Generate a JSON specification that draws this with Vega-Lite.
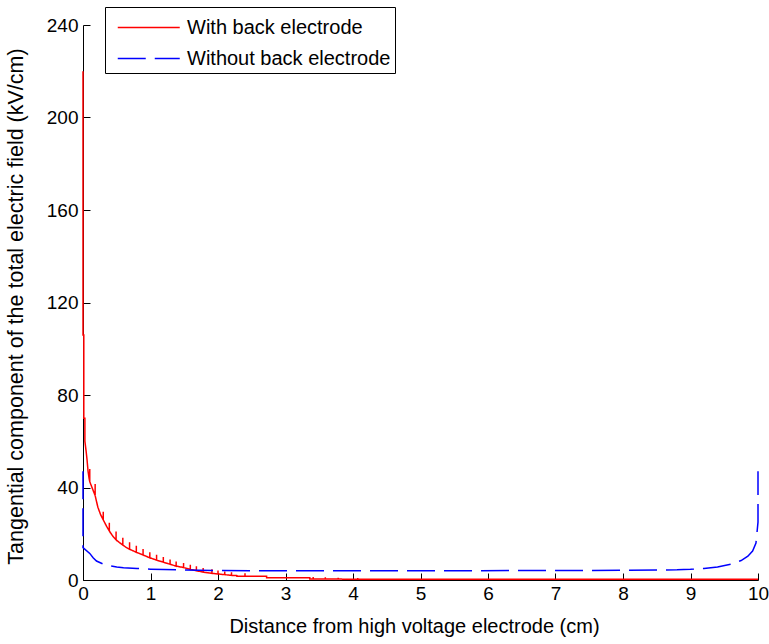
{
  "$schema": "https://vega.github.io/schema/vega-lite/v6.json",
  "width": 675,
  "height": 555,
  "autosize": {"type": "none"},
  "padding": {"left": 83, "top": 25, "right": 11, "bottom": 64},
  "background": "white",
  "config": {
    "font": "Liberation Sans",
    "view": {"stroke": null},
    "axis": {
      "grid": false,
      "domainColor": "black",
      "domainWidth": 1,
      "tickColor": "black",
      "tickWidth": 1,
      "tickSize": -7,
      "labelColor": "black",
      "titleColor": "black",
      "labelFont": "Liberation Sans",
      "titleFont": "Liberation Sans",
      "labelFontSize": 19,
      "titleFontWeight": "normal"
    }
  },
  "data": {
    "values": [
      {"s": "With back electrode", "i": 1, "x": 0, "y": 220},
      {"s": "With back electrode", "i": 2, "x": 0, "y": 106},
      {"s": "With back electrode", "i": 3, "x": 0.012, "y": 106},
      {"s": "With back electrode", "i": 4, "x": 0.012, "y": 70},
      {"s": "With back electrode", "i": 5, "x": 0.028, "y": 70},
      {"s": "With back electrode", "i": 6, "x": 0.028, "y": 60},
      {"s": "With back electrode", "i": 7, "x": 0.045, "y": 56},
      {"s": "With back electrode", "i": 8, "x": 0.06, "y": 52},
      {"s": "With back electrode", "i": 9, "x": 0.075, "y": 47},
      {"s": "With back electrode", "i": 10, "x": 0.09, "y": 44},
      {"s": "With back electrode", "i": 11, "x": 0.1, "y": 42.5},
      {"s": "With back electrode", "i": 12, "x": 0.1, "y": 48},
      {"s": "With back electrode", "i": 13, "x": 0.1, "y": 42.5},
      {"s": "With back electrode", "i": 14, "x": 0.14, "y": 39.5},
      {"s": "With back electrode", "i": 15, "x": 0.18, "y": 36.5},
      {"s": "With back electrode", "i": 16, "x": 0.18, "y": 41.5},
      {"s": "With back electrode", "i": 17, "x": 0.18, "y": 36.5},
      {"s": "With back electrode", "i": 18, "x": 0.22, "y": 31.5},
      {"s": "With back electrode", "i": 19, "x": 0.26, "y": 28.3},
      {"s": "With back electrode", "i": 20, "x": 0.3, "y": 26},
      {"s": "With back electrode", "i": 21, "x": 0.3, "y": 29.5},
      {"s": "With back electrode", "i": 22, "x": 0.3, "y": 26},
      {"s": "With back electrode", "i": 23, "x": 0.35, "y": 23.2},
      {"s": "With back electrode", "i": 24, "x": 0.39, "y": 21.2},
      {"s": "With back electrode", "i": 25, "x": 0.39, "y": 24.8},
      {"s": "With back electrode", "i": 26, "x": 0.39, "y": 21.2},
      {"s": "With back electrode", "i": 27, "x": 0.44, "y": 19},
      {"s": "With back electrode", "i": 28, "x": 0.49, "y": 17.4},
      {"s": "With back electrode", "i": 29, "x": 0.49, "y": 21},
      {"s": "With back electrode", "i": 30, "x": 0.49, "y": 17.4},
      {"s": "With back electrode", "i": 31, "x": 0.54, "y": 16.2},
      {"s": "With back electrode", "i": 32, "x": 0.59, "y": 15.1},
      {"s": "With back electrode", "i": 33, "x": 0.59, "y": 18.3},
      {"s": "With back electrode", "i": 34, "x": 0.59, "y": 15.1},
      {"s": "With back electrode", "i": 35, "x": 0.64, "y": 14.1},
      {"s": "With back electrode", "i": 36, "x": 0.69, "y": 13.3},
      {"s": "With back electrode", "i": 37, "x": 0.69, "y": 16.3},
      {"s": "With back electrode", "i": 38, "x": 0.69, "y": 13.3},
      {"s": "With back electrode", "i": 39, "x": 0.79, "y": 12.0},
      {"s": "With back electrode", "i": 40, "x": 0.79, "y": 14.8},
      {"s": "With back electrode", "i": 41, "x": 0.79, "y": 12.0},
      {"s": "With back electrode", "i": 42, "x": 0.89, "y": 10.8},
      {"s": "With back electrode", "i": 43, "x": 0.89, "y": 13.4},
      {"s": "With back electrode", "i": 44, "x": 0.89, "y": 10.8},
      {"s": "With back electrode", "i": 45, "x": 0.99, "y": 9.6},
      {"s": "With back electrode", "i": 46, "x": 0.99, "y": 12.0},
      {"s": "With back electrode", "i": 47, "x": 0.99, "y": 9.6},
      {"s": "With back electrode", "i": 48, "x": 1.09, "y": 8.6},
      {"s": "With back electrode", "i": 49, "x": 1.09, "y": 10.9},
      {"s": "With back electrode", "i": 50, "x": 1.09, "y": 8.6},
      {"s": "With back electrode", "i": 51, "x": 1.19, "y": 7.7},
      {"s": "With back electrode", "i": 52, "x": 1.19, "y": 9.9},
      {"s": "With back electrode", "i": 53, "x": 1.19, "y": 7.7},
      {"s": "With back electrode", "i": 54, "x": 1.29, "y": 6.8},
      {"s": "With back electrode", "i": 55, "x": 1.29, "y": 8.9},
      {"s": "With back electrode", "i": 56, "x": 1.29, "y": 6.8},
      {"s": "With back electrode", "i": 57, "x": 1.38, "y": 6.0},
      {"s": "With back electrode", "i": 58, "x": 1.38, "y": 8.0},
      {"s": "With back electrode", "i": 59, "x": 1.38, "y": 6.0},
      {"s": "With back electrode", "i": 60, "x": 1.49, "y": 5.4},
      {"s": "With back electrode", "i": 61, "x": 1.49, "y": 7.4},
      {"s": "With back electrode", "i": 62, "x": 1.49, "y": 5.4},
      {"s": "With back electrode", "i": 63, "x": 1.59, "y": 4.6},
      {"s": "With back electrode", "i": 64, "x": 1.59, "y": 6.6},
      {"s": "With back electrode", "i": 65, "x": 1.59, "y": 4.6},
      {"s": "With back electrode", "i": 66, "x": 1.68, "y": 4.0},
      {"s": "With back electrode", "i": 67, "x": 1.68, "y": 5.9},
      {"s": "With back electrode", "i": 68, "x": 1.68, "y": 4.0},
      {"s": "With back electrode", "i": 69, "x": 1.78, "y": 3.4},
      {"s": "With back electrode", "i": 70, "x": 1.78, "y": 5.2},
      {"s": "With back electrode", "i": 71, "x": 1.78, "y": 3.4},
      {"s": "With back electrode", "i": 72, "x": 1.91, "y": 2.9},
      {"s": "With back electrode", "i": 73, "x": 1.91, "y": 4.6},
      {"s": "With back electrode", "i": 74, "x": 1.91, "y": 2.9},
      {"s": "With back electrode", "i": 75, "x": 2.0, "y": 2.6},
      {"s": "With back electrode", "i": 76, "x": 2.0, "y": 4.1},
      {"s": "With back electrode", "i": 77, "x": 2.0, "y": 2.6},
      {"s": "With back electrode", "i": 78, "x": 2.1, "y": 2.3},
      {"s": "With back electrode", "i": 79, "x": 2.1, "y": 3.7},
      {"s": "With back electrode", "i": 80, "x": 2.1, "y": 2.3},
      {"s": "With back electrode", "i": 81, "x": 2.2, "y": 2.0},
      {"s": "With back electrode", "i": 82, "x": 2.2, "y": 3.3},
      {"s": "With back electrode", "i": 83, "x": 2.2, "y": 2.0},
      {"s": "With back electrode", "i": 84, "x": 2.28, "y": 1.9},
      {"s": "With back electrode", "i": 85, "x": 2.28, "y": 1.6},
      {"s": "With back electrode", "i": 86, "x": 2.4, "y": 1.6},
      {"s": "With back electrode", "i": 87, "x": 2.4, "y": 2.9},
      {"s": "With back electrode", "i": 88, "x": 2.4, "y": 1.6},
      {"s": "With back electrode", "i": 89, "x": 2.72, "y": 1.6},
      {"s": "With back electrode", "i": 90, "x": 2.72, "y": 1.0},
      {"s": "With back electrode", "i": 91, "x": 3.36, "y": 1.0},
      {"s": "With back electrode", "i": 92, "x": 3.36, "y": 0.4},
      {"s": "With back electrode", "i": 93, "x": 3.41, "y": 0.4},
      {"s": "With back electrode", "i": 94, "x": 3.41, "y": 1.3},
      {"s": "With back electrode", "i": 95, "x": 3.41, "y": 0.4},
      {"s": "With back electrode", "i": 96, "x": 3.59, "y": 0.4},
      {"s": "With back electrode", "i": 97, "x": 3.59, "y": 1.2},
      {"s": "With back electrode", "i": 98, "x": 3.59, "y": 0.4},
      {"s": "With back electrode", "i": 99, "x": 3.78, "y": 0.4},
      {"s": "With back electrode", "i": 100, "x": 3.78, "y": 1.0},
      {"s": "With back electrode", "i": 101, "x": 3.78, "y": 0.4},
      {"s": "With back electrode", "i": 102, "x": 4.07, "y": 0.3},
      {"s": "With back electrode", "i": 103, "x": 4.07, "y": 0.9},
      {"s": "With back electrode", "i": 104, "x": 4.07, "y": 0.3},
      {"s": "With back electrode", "i": 105, "x": 10, "y": 0.3},
      {"s": "Without back electrode", "i": 201, "x": 0, "y": 47},
      {"s": "Without back electrode", "i": 202, "x": 0, "y": 14},
      {"s": "Without back electrode", "i": 203, "x": 0.1, "y": 11.5},
      {"s": "Without back electrode", "i": 204, "x": 0.15, "y": 9.6},
      {"s": "Without back electrode", "i": 205, "x": 0.2, "y": 8.2},
      {"s": "Without back electrode", "i": 206, "x": 0.3, "y": 6.9},
      {"s": "Without back electrode", "i": 207, "x": 0.4, "y": 6.1},
      {"s": "Without back electrode", "i": 208, "x": 0.5, "y": 5.6},
      {"s": "Without back electrode", "i": 209, "x": 0.6, "y": 5.3},
      {"s": "Without back electrode", "i": 210, "x": 0.8, "y": 5.0},
      {"s": "Without back electrode", "i": 211, "x": 1.0, "y": 4.7},
      {"s": "Without back electrode", "i": 212, "x": 1.2, "y": 4.5},
      {"s": "Without back electrode", "i": 213, "x": 1.5, "y": 4.3},
      {"s": "Without back electrode", "i": 214, "x": 2.0, "y": 4.1},
      {"s": "Without back electrode", "i": 215, "x": 3.0, "y": 4.0},
      {"s": "Without back electrode", "i": 216, "x": 5.0, "y": 4.0},
      {"s": "Without back electrode", "i": 217, "x": 7.0, "y": 4.1},
      {"s": "Without back electrode", "i": 218, "x": 8.0, "y": 4.2},
      {"s": "Without back electrode", "i": 219, "x": 8.8, "y": 4.4},
      {"s": "Without back electrode", "i": 220, "x": 9.0, "y": 4.6},
      {"s": "Without back electrode", "i": 221, "x": 9.2, "y": 5.0},
      {"s": "Without back electrode", "i": 222, "x": 9.4, "y": 5.6},
      {"s": "Without back electrode", "i": 223, "x": 9.6, "y": 6.8},
      {"s": "Without back electrode", "i": 224, "x": 9.75, "y": 8.4},
      {"s": "Without back electrode", "i": 225, "x": 9.85, "y": 10.3},
      {"s": "Without back electrode", "i": 226, "x": 9.92, "y": 12.5},
      {"s": "Without back electrode", "i": 227, "x": 9.97, "y": 16},
      {"s": "Without back electrode", "i": 228, "x": 10, "y": 25},
      {"s": "Without back electrode", "i": 229, "x": 10, "y": 47}
    ]
  },
  "mark": {"type": "line", "strokeWidth": 1.5, "clip": false},
  "encoding": {
    "x": {
      "field": "x",
      "type": "quantitative",
      "scale": {"domain": [0, 10], "nice": false, "zero": false},
      "axis": {
        "values": [0, 1, 2, 3, 4, 5, 6, 7, 8, 9, 10],
        "title": "Distance from high voltage electrode (cm)",
        "titleFontSize": 20,
        "labelPadding": 11,
        "titleX": 331,
        "titleAlign": "center",
        "titleY": 36,
        "titleBaseline": "top",
        "labelFlush": false
      }
    },
    "y": {
      "field": "y",
      "type": "quantitative",
      "scale": {"domain": [0, 240], "nice": false},
      "axis": {
        "values": [0, 40, 80, 120, 160, 200, 240],
        "title": "Tangential component of the total electric field (kV/cm)",
        "titleFontSize": 21.5,
        "labelPadding": 12,
        "titleX": -56,
        "titleY": 281,
        "titleAngle": -90,
        "titleAlign": "center",
        "titleBaseline": "bottom",
        "labelFlush": false
      }
    },
    "order": {"field": "i", "type": "quantitative"},
    "color": {
      "field": "s",
      "type": "nominal",
      "scale": {"domain": ["With back electrode", "Without back electrode"], "range": ["#ff0000", "#0000ff"]},
      "legend": {
        "orient": "none",
        "legendX": 22,
        "legendY": -18,
        "title": null,
        "strokeColor": "black",
        "fillColor": "white",
        "padding": 4,
        "cornerRadius": 0,
        "labelFontSize": 20,
        "labelFont": "Liberation Sans",
        "labelColor": "black",
        "labelLimit": 0,
        "symbolType": "M-0.5,0L3.5,0",
        "symbolSize": 961,
        "symbolStrokeWidth": 1.5,
        "labelOffset": 45,
        "rowPadding": 4
      }
    },
    "strokeDash": {
      "field": "s",
      "type": "nominal",
      "scale": {"domain": ["With back electrode", "Without back electrode"], "range": [[1, 0], [28, 9]]},
      "legend": {
        "orient": "none",
        "legendX": 22,
        "legendY": -18,
        "title": null,
        "strokeColor": "black",
        "fillColor": "white",
        "padding": 4,
        "cornerRadius": 0,
        "labelFontSize": 20,
        "labelFont": "Liberation Sans",
        "labelColor": "black",
        "labelLimit": 0,
        "symbolType": "M-0.5,0L3.5,0",
        "symbolSize": 961,
        "symbolStrokeWidth": 1.5,
        "labelOffset": 45,
        "rowPadding": 4
      }
    }
  }
}
